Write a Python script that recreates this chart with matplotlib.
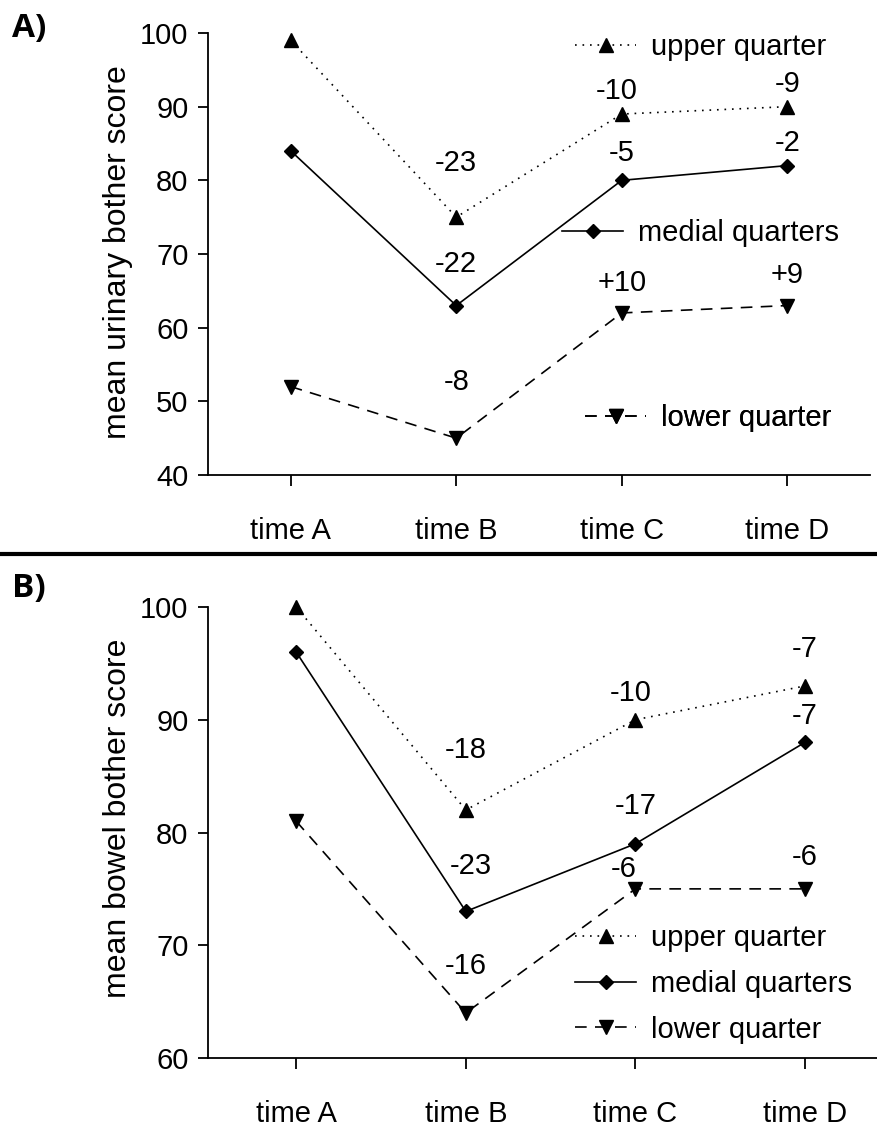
import matplotlib
matplotlib.use("Agg")
import matplotlib.pyplot as plt
from matplotlib.lines import Line2D

plt.rcParams["font.family"] = ["Liberation Sans", "DejaVu Sans"]

times = ["time A", "time B", "time C", "time D"]
groups = ["upper quarter", "medial quarters", "lower quarter"]

# --- panel A: urinary bother ---
urinary_upper = [99, 75, 89, 90]
urinary_medial = [84, 63, 80, 82]
urinary_lower = [52, 45, 62, 63]
urinary_upper_lbl = ["", "-23", "-10", "-9"]
urinary_medial_lbl = ["", "-22", "-5", "-2"]
urinary_lower_lbl = ["", "-8", "+10", "+9"]

# --- panel B: bowel bother ---
bowel_upper = [100, 82, 90, 93]
bowel_medial = [96, 73, 79, 88]
bowel_lower = [81, 64, 75, 75]
bowel_upper_lbl = ["", "-18", "-10", "-7"]
bowel_medial_lbl = ["", "-23", "-17", "-7"]
bowel_lower_lbl = ["", "-16", "-6", "-6"]

# label offsets (pixels) relative to the markers
off_a_upper = [(0, 0), (0, 54), (-5, 23), (0, 23)]
off_a_medial = [(0, 0), (0, 42), (0, 27), (0, 23)]
off_a_lower = [(0, 0), (0, 56), (0, 30), (0, 31)]
off_b_upper = [(0, 0), (0, 60), (-5, 27), (0, 37)]
off_b_medial = [(0, 0), (5, 45), (0, 38), (0, 26)]
off_b_lower = [(0, 0), (0, 47), (-12, 20), (0, 32)]

W, H = 878, 1131
FS = 21
fig = plt.figure(figsize=(W / 100, H / 100), dpi=100)

styles = [
    dict(linestyle=(0, (1, 3.5)), marker="^", markersize=9.5),
    dict(linestyle="-", marker="D", markersize=7),
    dict(linestyle=(0, (7, 5)), marker="v", markersize=9.5),
]


def setup_axes(rect, ylim, yticks, xlim, ylabel, ylabel_y):
    ax = fig.add_axes(rect)
    ax.set_xlim(*xlim)
    ax.set_ylim(*ylim)
    for s in ["top", "right"]:
        ax.spines[s].set_visible(False)
    for s in ["left", "bottom"]:
        ax.spines[s].set_linewidth(1.3)
    ax.set_yticks(yticks)
    ax.set_xticks(range(1, len(times) + 1))
    ax.set_xticklabels(times)
    ax.tick_params(axis="y", length=7, width=1.3, pad=7, labelsize=FS)
    ax.tick_params(axis="x", length=8, width=1.3, pad=22, labelsize=FS)
    fig.text(118 / W, 1 - ylabel_y / H, ylabel, rotation=90,
             ha="center", va="center", fontsize=23)
    return ax


def draw_series(ax, series, labels, offsets):
    x = range(1, len(times) + 1)
    handles = []
    for vals, lbls, offs, st in zip(series, labels, offsets, styles):
        (h,) = ax.plot(x, vals, color="black", lw=1.2, clip_on=False,
                       markerfacecolor="black", markeredgecolor="black", **st)
        handles.append(h)
        for xi, v, t, o in zip(x, vals, lbls, offs):
            if t:
                ax.annotate(t, (xi, v), xytext=o, textcoords="offset pixels",
                            ha="center", va="center", fontsize=FS)
    return handles


leg_kw = dict(loc="center left", bbox_transform=fig.transFigure,
              frameon=False, borderpad=0, borderaxespad=0,
              handlelength=2.1, handletextpad=0.5, fontsize=FS, numpoints=1)

# panel A
ax1 = setup_axes([208 / W, 1 - 475 / H, (870 - 208) / W, (475 - 33) / H],
                 (40, 100), range(40, 101, 10), (0.5, 4.5),
                 "mean urinary bother score", 252)
h1 = draw_series(ax1,
                 [urinary_upper, urinary_medial, urinary_lower],
                 [urinary_upper_lbl, urinary_medial_lbl, urinary_lower_lbl],
                 [off_a_upper, off_a_medial, off_a_lower])

# separate legend entries in panel A
leg_pos = [(575, 47), (562, 233), (585, 418)]
for h, g, (lx, ly) in zip(h1, groups, leg_pos):
    leg = ax1.legend([h], [g], bbox_to_anchor=(lx / W, 1 - ly / H), **leg_kw)
    ax1.add_artist(leg)

# panel B
ax2 = setup_axes([208 / W, 1 - 1058 / H, (878 - 208) / W, (1058 - 607) / H],
                 (60, 100), range(60, 101, 10), (0.48, 4.43),
                 "mean bowel bother score", 818)
h2 = draw_series(ax2,
                 [bowel_upper, bowel_medial, bowel_lower],
                 [bowel_upper_lbl, bowel_medial_lbl, bowel_lower_lbl],
                 [off_b_upper, off_b_medial, off_b_lower])
ax2.legend(h2, groups, bbox_to_anchor=(575 / W, 1 - 984 / H),
           labelspacing=0.6, **leg_kw)

# separator between panels and panel letters
fig.add_artist(Line2D([0, 1], [1 - 554 / H, 1 - 554 / H], color="black",
                      lw=3, transform=fig.transFigure))
fig.text(29 / W, 1 - 29 / H, "A)", fontsize=24, fontweight="bold",
         family=["Open Sans", "DejaVu Sans"], ha="center", va="center")
fig.text(29 / W, 1 - 589 / H, "B)", fontsize=24, fontweight="bold",
         family=["Open Sans", "DejaVu Sans"], ha="center", va="center")

fig.savefig("out.png", dpi=100)
